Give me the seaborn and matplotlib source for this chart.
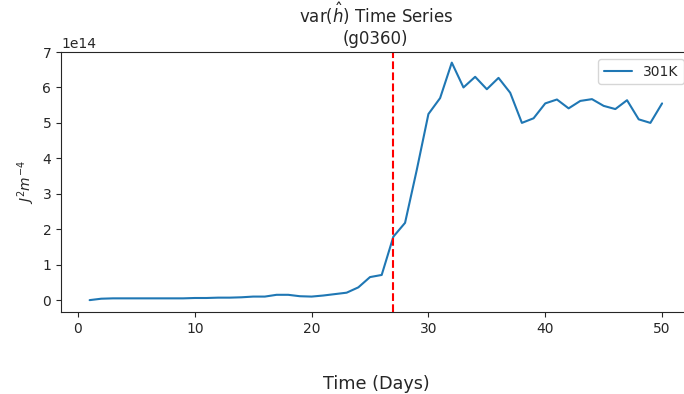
import numpy as np
import pandas as pd
import matplotlib
matplotlib.use("Agg")
import matplotlib.pyplot as plt
import seaborn as sns

days = list(range(1, 51))
variance_e14 = [0.00, 0.04, 0.05, 0.05, 0.05, 0.05, 0.05, 0.05, 0.05, 0.06,
                0.06, 0.07, 0.07, 0.08, 0.10, 0.10, 0.15, 0.15, 0.11, 0.10,
                0.13, 0.17, 0.21, 0.36, 0.65, 0.71, 1.79, 2.18, 3.67, 5.25,
                5.70, 6.70, 6.00, 6.30, 5.95, 6.27, 5.85, 5.00, 5.13, 5.55,
                5.66, 5.41, 5.62, 5.67, 5.48, 5.39, 5.64, 5.10, 5.00, 5.55]
series_label = "301K"
event_day = 27

df = pd.DataFrame({"day": days, "var": np.array(variance_e14) * 1e14, "run": series_label})

sns.set_style("ticks")
plt.rcParams['font.family'] = ['DejaVu Sans']
fig = plt.figure(figsize=(6.84, 3.94), dpi=100)
ax = fig.add_axes([61/684, 1 - 312/394, (690.7 - 61)/684, (312 - 52)/394])
sns.lineplot(data=df, x="day", y="var", hue="run", palette=["#1f77b4"], ax=ax, linewidth=1.5)
ax.axvline(event_day, color="red", linestyle="--", linewidth=1.5)
ax.set_xlim(-1.45, 52.45)
ax.set_ylim(-0.335e14, 7.0e14)
ax.set_xticks([0, 10, 20, 30, 40, 50])
ax.set_title("var($\\hat{h}$) Time Series\n(g0360)", fontsize=12)
ax.set_ylabel("$J^2m^{-4}$", fontsize=10)
ax.set_xlabel("Time (Days)", fontsize=12.7, labelpad=28)
ax.tick_params(labelsize=10)
for s in ax.spines.values():
    s.set_visible(True)
leg = ax.legend(loc="upper right", fontsize=10)
leg.get_frame().set_edgecolor("#cccccc")
fig.savefig("out.png", dpi=100)
